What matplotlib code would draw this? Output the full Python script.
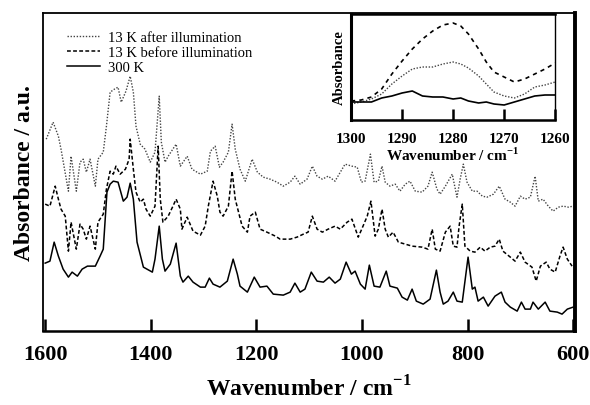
import matplotlib
matplotlib.use('Agg')
import matplotlib.pyplot as plt

plt.rcParams['font.family'] = ['Liberation Serif', 'DejaVu Serif']
plt.rcParams['mathtext.fontset'] = 'custom'
plt.rcParams['mathtext.rm'] = 'Liberation Serif'
plt.rcParams['mathtext.bf'] = 'Liberation Serif:bold'

# main spectra (wavenumber, absorbance a.u.)
wn_300 = [1600, 1591, 1583, 1575, 1566, 1556, 1549, 1539, 1530, 1520, 1505, 1496, 1490, 1483, 1477,
          1471, 1462, 1452, 1445, 1439, 1433, 1426, 1414, 1397, 1392, 1384, 1378, 1373, 1363, 1352,
          1344, 1339, 1329, 1320, 1306, 1297, 1289, 1282, 1269, 1255, 1244, 1236, 1231, 1217, 1204,
          1193, 1180, 1168, 1149, 1136, 1127, 1117, 1108, 1096, 1085, 1073, 1062, 1051, 1041, 1030,
          1020, 1013, 1003, 994, 986, 977, 966, 954, 947, 933, 924, 914, 905, 897, 884,
          871, 859, 852, 846, 837, 827, 820, 810, 799, 791, 786, 780, 770, 761, 748,
          736, 729, 719, 706, 698, 691, 681, 676, 666, 653, 644, 630, 621, 611, 600]
ab_300 = [0.68, 0.70, 0.89, 0.75, 0.62, 0.54, 0.59, 0.55, 0.62, 0.65, 0.65, 0.75, 0.82, 1.39, 1.47,
          1.50, 1.49, 1.30, 1.34, 1.48, 1.32, 0.89, 0.64, 0.59, 0.72, 1.05, 0.72, 0.60, 0.67, 0.88,
          0.55, 0.49, 0.55, 0.49, 0.44, 0.44, 0.53, 0.47, 0.44, 0.50, 0.72, 0.57, 0.45, 0.39, 0.54,
          0.44, 0.45, 0.37, 0.36, 0.39, 0.48, 0.39, 0.42, 0.59, 0.50, 0.49, 0.54, 0.48, 0.52, 0.69,
          0.57, 0.60, 0.47, 0.42, 0.66, 0.45, 0.44, 0.60, 0.45, 0.43, 0.34, 0.31, 0.42, 0.30, 0.27,
          0.32, 0.61, 0.39, 0.27, 0.30, 0.39, 0.30, 0.29, 0.74, 0.42, 0.44, 0.30, 0.34, 0.25, 0.35,
          0.39, 0.29, 0.24, 0.20, 0.29, 0.22, 0.22, 0.29, 0.22, 0.29, 0.20, 0.19, 0.17, 0.22, 0.24]

wn_before = [1600, 1591, 1581, 1575, 1570, 1562, 1556, 1551, 1541, 1534, 1528, 1522, 1515, 1505, 1500,
             1490, 1484, 1477, 1471, 1466, 1458, 1448, 1441, 1439, 1433, 1428, 1420, 1414, 1409, 1401,
             1392, 1386, 1382, 1377, 1367, 1358, 1352, 1344, 1341, 1331, 1320, 1306, 1297, 1291, 1282,
             1274, 1269, 1263, 1253, 1246, 1240, 1227, 1217, 1212, 1202, 1193, 1180, 1164, 1155, 1136,
             1123, 1111, 1102, 1094, 1085, 1075, 1064, 1051, 1041, 1028, 1019, 1007, 998, 990, 983,
             975, 969, 962, 956, 950, 941, 931, 918, 905, 886, 875, 867, 861, 852, 842,
             833, 827, 820, 816, 810, 805, 795, 786, 776, 767, 757, 748, 740, 733, 719,
             710, 700, 691, 678, 670, 662, 651, 644, 634, 625, 619, 611, 602]
ab_before = [1.27, 1.25, 1.45, 1.32, 1.22, 1.15, 0.80, 1.09, 0.82, 1.07, 1.02, 0.92, 1.05, 0.82, 1.09,
             1.17, 1.42, 1.60, 1.57, 1.65, 1.57, 1.62, 1.72, 1.92, 1.62, 1.39, 1.29, 1.32, 1.22, 1.15,
             1.25, 1.85, 1.32, 1.09, 1.15, 1.25, 1.32, 1.22, 1.02, 1.14, 1.00, 0.96, 1.05, 1.25, 1.50,
             1.35, 1.19, 1.15, 1.25, 1.60, 1.32, 1.05, 0.99, 1.15, 1.19, 1.02, 0.99, 0.95, 0.92, 0.92,
             0.94, 0.97, 0.99, 1.15, 1.02, 0.99, 1.02, 1.05, 1.02, 1.09, 1.12, 0.94, 1.05, 1.15, 1.30,
             0.95, 1.02, 1.22, 1.02, 0.94, 0.99, 0.89, 0.87, 0.85, 0.84, 0.82, 1.02, 0.82, 0.80, 0.99,
             1.05, 0.85, 0.84, 1.05, 1.27, 0.85, 0.80, 0.79, 0.84, 0.80, 0.84, 0.85, 0.92, 0.80, 0.74,
             0.70, 0.79, 0.69, 0.64, 0.50, 0.65, 0.69, 0.62, 0.59, 0.75, 0.84, 0.72, 0.65]

wn_after = [1598, 1585, 1575, 1570, 1556, 1551, 1541, 1534, 1528, 1522, 1515, 1505, 1500, 1490, 1484,
            1477, 1469, 1462, 1456, 1447, 1439, 1433, 1428, 1420, 1411, 1401, 1392, 1384, 1380, 1373,
            1367, 1352, 1344, 1331, 1322, 1306, 1293, 1287, 1278, 1270, 1263, 1253, 1246, 1240, 1231,
            1221, 1208, 1198, 1187, 1174, 1161, 1149, 1136, 1127, 1117, 1104, 1094, 1085, 1075, 1064,
            1051, 1041, 1032, 1019, 1009, 1001, 994, 984, 977, 969, 962, 956, 947, 937, 928,
            918, 909, 899, 886, 875, 867, 858, 852, 842, 829, 820, 814, 808, 801, 791,
            782, 772, 763, 751, 740, 729, 719, 710, 700, 691, 681, 672, 666, 657, 647,
            638, 628, 619, 609, 600]
ab_after = [1.92, 2.09, 1.95, 1.82, 1.40, 1.75, 1.40, 1.69, 1.72, 1.59, 1.72, 1.45, 1.72, 1.79, 2.05,
            2.39, 2.42, 2.44, 2.29, 2.40, 2.55, 2.39, 2.05, 1.87, 1.82, 1.69, 1.79, 2.35, 1.89, 1.69,
            1.75, 1.87, 1.65, 1.75, 1.62, 1.57, 1.60, 1.80, 1.85, 1.64, 1.69, 1.79, 2.07, 1.82, 1.62,
            1.50, 1.72, 1.59, 1.54, 1.52, 1.49, 1.45, 1.49, 1.55, 1.47, 1.52, 1.65, 1.55, 1.52, 1.55,
            1.50, 1.59, 1.67, 1.65, 1.64, 1.49, 1.50, 1.77, 1.49, 1.50, 1.65, 1.49, 1.45, 1.47, 1.40,
            1.47, 1.50, 1.40, 1.39, 1.45, 1.59, 1.42, 1.37, 1.45, 1.57, 1.34, 1.52, 1.67, 1.49, 1.40,
            1.40, 1.35, 1.34, 1.37, 1.45, 1.32, 1.29, 1.25, 1.35, 1.32, 1.34, 1.55, 1.30, 1.32, 1.25,
            1.20, 1.24, 1.25, 1.24, 1.25]

# inset, 1300-1260 cm-1
wn_in = [1300, 1298, 1296, 1294, 1292, 1290, 1288, 1286, 1284, 1282, 1280,
         1278.5, 1277, 1275, 1273.5, 1272, 1270, 1268, 1266, 1264, 1262, 1260]
in_before = [0.19, 0.20, 0.23, 0.31, 0.46, 0.59, 0.71, 0.81, 0.89, 0.95, 0.97,
             0.94, 0.86, 0.71, 0.58, 0.48, 0.43, 0.38, 0.41, 0.46, 0.51, 0.57]
in_after = [0.16, 0.18, 0.21, 0.26, 0.36, 0.44, 0.51, 0.53, 0.53, 0.56, 0.58,
            0.56, 0.52, 0.44, 0.36, 0.28, 0.24, 0.22, 0.26, 0.33, 0.35, 0.38]
in_300 = [0.18, 0.18, 0.18, 0.22, 0.24, 0.27, 0.29, 0.24, 0.23, 0.23, 0.21,
          0.22, 0.19, 0.17, 0.18, 0.16, 0.15, 0.18, 0.21, 0.24, 0.25, 0.25]

fig = plt.figure(figsize=(5.9, 4.06), dpi=100)
ax = fig.add_axes([0.073, 0.182, 0.902, 0.783])

ax.plot(wn_after, ab_after, color='#444444', ls=(0, (1, 1.2)), lw=1.0, label='13 K after illumination')
ax.plot(wn_before, ab_before, color='black', ls=(0, (2.5, 1.5)), lw=1.1, label='13 K before illumination')
ax.plot(wn_300, ab_300, color='black', ls='-', lw=1.1, label='300 K')

ax.set_xlim(1604, 596)
ax.set_ylim(0, 3.18)
ax.set_yticks([])
ax.set_xticks([1600, 1400, 1200, 1000, 800, 600])
ax.tick_params(axis='x', direction='in', length=9, width=1.8, pad=9)
for lab in ax.get_xticklabels():
    lab.set_fontsize(16)
    lab.set_fontweight('bold')
ax.spines['left'].set_linewidth(1.3)
ax.spines['top'].set_linewidth(1.3)
ax.spines['bottom'].set_linewidth(1.8)
ax.spines['right'].set_linewidth(2.8)
ax.set_xlabel(r'Wavenumber / cm$^{\mathbf{-1}}$', fontsize=17, fontweight='bold', labelpad=8)
ax.set_ylabel('Absorbance / a.u.', fontsize=17, fontweight='bold', labelpad=6)

leg = ax.legend(loc='upper left', bbox_to_anchor=(0.02, 0.985), frameon=False,
                fontsize=10.5, handlelength=2.3, handletextpad=0.5, labelspacing=0.1)

# inset
ins = fig.add_axes([0.595, 0.702, 0.346, 0.261])
ins.plot(wn_in, in_after, color='#444444', ls=(0, (1, 1.2)), lw=1.0)
ins.plot(wn_in, in_before, color='black', ls=(0, (2.5, 2.5)), lw=1.2)
ins.plot(wn_in, in_300, color='black', ls='-', lw=1.2)
ins.set_xlim(1300, 1260)
ins.set_ylim(0, 1.06)
ins.set_yticks([])
ins.set_xticks([1300, 1290, 1280, 1270, 1260])
ins.tick_params(axis='x', direction='in', length=8, width=1.8, pad=9)
for lab in ins.get_xticklabels():
    lab.set_fontsize(11)
    lab.set_fontweight('bold')
ins.spines['left'].set_linewidth(2.2)
ins.spines['top'].set_linewidth(1.8)
ins.spines['bottom'].set_linewidth(1.8)
ins.spines['right'].set_linewidth(1.0)
ins.set_xlabel(r'Wavenumber / cm$^{\mathbf{-1}}$', fontsize=11, fontweight='bold', labelpad=0)
ins.set_ylabel('Absorbance', fontsize=10.5, fontweight='bold', labelpad=4)

fig.savefig('out.png', dpi=100)
